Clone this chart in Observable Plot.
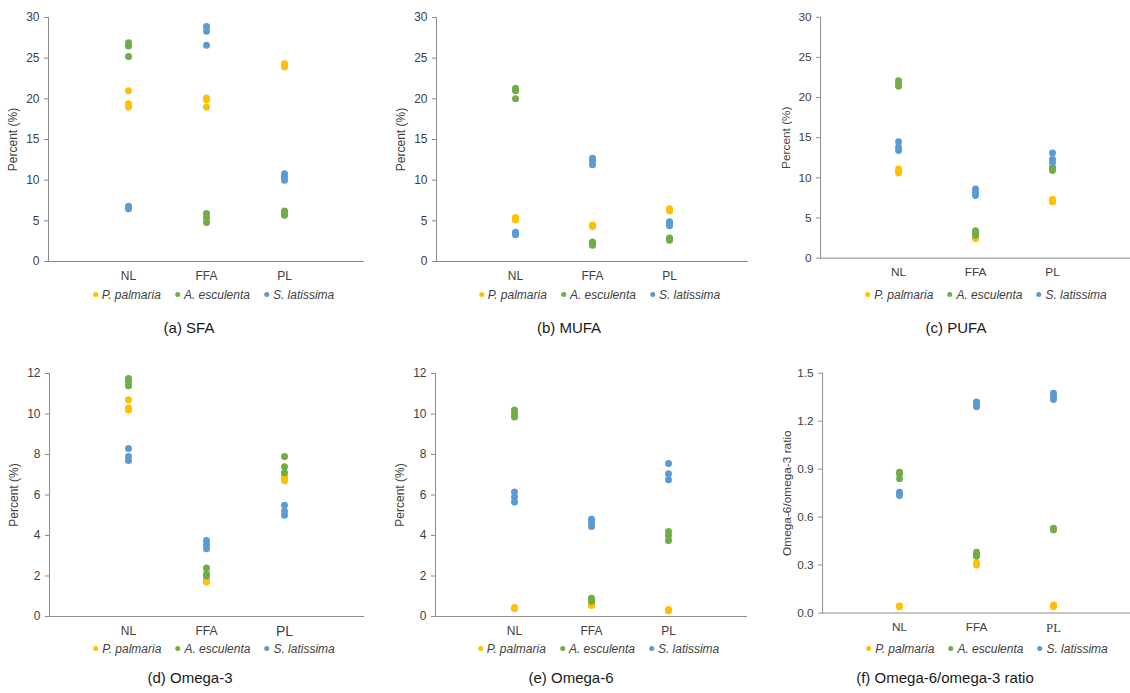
<!DOCTYPE html>
<html>
<head>
<meta charset="utf-8">
<script src="https://cdn.jsdelivr.net/npm/d3@7"></script>
<script src="https://cdn.jsdelivr.net/npm/@observablehq/plot@0.6"></script>
<style>
  body { margin: 0; background: #fff; font-family: "Liberation Sans", Arial, sans-serif; }
  #root { position: relative; width: 1130px; height: 693px; overflow: hidden; background: #fff; }
  .panel { position: absolute; }
  .panel svg { display: block; }
  .legend { position: absolute; white-space: nowrap; font-style: italic; font-size: 12px; line-height: 16px; color: #404040; transform: translateX(-50%); }
  .legend .item { display: inline-block; margin-right: 14px; }
  .legend .item:last-child { margin-right: 0; }
  .legend .sw { display: inline-block; width: 5px; height: 5px; border-radius: 50%; margin-right: 4px; vertical-align: 2px; }
  .caption { position: absolute; font-size: 15px; color: #1a1a1a; transform: translate(-50%, -50%); white-space: nowrap; }
</style>
</head>
<body>
<div id="root"></div>
<script>
// ---------- data ----------
const categories = ["NL", "FFA", "PL"];
const species = ["P. palmaria", "A. esculenta", "S. latissima"];
const speciesColors = ["#FFC000", "#70AD47", "#5B9BD5"];

// each array: per category [NL, FFA, PL], per species [palmaria, esculenta, latissima], 3 replicates
const sfa = [
  [[21.0, 19.4, 19.0], [26.9, 26.5, 25.2], [6.8, 6.6, 6.5]],
  [[20.1, 19.9, 19.0], [5.9, 5.4, 4.8], [28.9, 28.3, 26.6]],
  [[24.3, 24.1, 23.9], [6.2, 5.9, 5.7], [10.8, 10.4, 10.0]]
];
const mufa = [
  [[5.4, 5.3, 5.1], [21.3, 21.0, 20.0], [3.6, 3.5, 3.3]],
  [[4.5, 4.4, 4.3], [2.4, 2.2, 2.0], [12.7, 12.4, 11.9]],
  [[6.5, 6.3, 6.2], [2.9, 2.8, 2.6], [4.9, 4.6, 4.4]]
];
const pufa = [
  [[11.1, 10.8, 10.6], [22.1, 21.8, 21.4], [14.5, 13.8, 13.4]],
  [[2.6, 2.5, 2.4], [3.4, 3.1, 2.8], [8.6, 8.2, 7.8]],
  [[7.3, 7.2, 7.0], [11.3, 11.2, 10.9], [13.1, 12.3, 11.9]]
];
const omega3 = [
  [[10.7, 10.3, 10.2], [11.75, 11.6, 11.4], [8.3, 7.9, 7.7]],
  [[1.8, 1.75, 1.7], [2.4, 2.1, 2.0], [3.75, 3.55, 3.35]],
  [[6.9, 6.8, 6.7], [7.9, 7.4, 7.1], [5.5, 5.2, 5.0]]
];
const omega6 = [
  [[0.45, 0.42, 0.4], [10.2, 10.0, 9.85], [6.15, 5.9, 5.65]],
  [[0.6, 0.55, 0.55], [0.9, 0.8, 0.75], [4.8, 4.6, 4.45]],
  [[0.35, 0.3, 0.28], [4.2, 4.0, 3.75], [7.55, 7.05, 6.75]]
];
const ratio = [
  [[0.045, 0.04, 0.04], [0.88, 0.87, 0.84], [0.755, 0.745, 0.735]],
  [[0.315, 0.305, 0.3], [0.38, 0.365, 0.355], [1.32, 1.305, 1.29]],
  [[0.05, 0.045, 0.04], [0.53, 0.525, 0.52], [1.375, 1.355, 1.335]]
];

const panelData = [sfa, mufa, pufa, omega3, omega6, ratio];
const captions = ["(a) SFA", "(b) MUFA", "(c) PUFA", "(d) Omega-3", "(e) Omega-6", "(f) Omega-6/omega-3 ratio"];
const yLabels = ["Percent (%)", "Percent (%)", "Percent (%)", "Percent (%)", "Percent (%)", "Omega-6/omega-3 ratio"];
const yMax = [30, 30, 30, 12, 12, 1.5];
const yTicks = [
  [0, 5, 10, 15, 20, 25, 30],
  [0, 5, 10, 15, 20, 25, 30],
  [0, 5, 10, 15, 20, 25, 30],
  [0, 2, 4, 6, 8, 10, 12],
  [0, 2, 4, 6, 8, 10, 12],
  [0, 0.3, 0.6, 0.9, 1.2, 1.5]
];
const yFormats = [null, null, null, null, null, ".1f"];

// ---------- layout ----------
const layout = [
  {left: 0,   top: 0,   width: 375, height: 285, ml: 48, mr: 12, mt: 17, mb: 24, legendY: 295, capX: 189, capY: 327},
  {left: 375, top: 0,   width: 375, height: 285, ml: 61, mr: 3,  mt: 17, mb: 24, legendY: 295, capX: 569, capY: 327},
  {left: 750, top: 0,   width: 385, height: 285, ml: 71, mr: 0,  mt: 17, mb: 24, legendY: 295, capX: 956, capY: 327},
  {left: 0,   top: 350, width: 375, height: 290, ml: 49, mr: 12, mt: 23, mb: 24, legendY: 649, capX: 190, capY: 677},
  {left: 375, top: 350, width: 375, height: 290, ml: 60, mr: 4,  mt: 23, mb: 24, legendY: 649, capX: 571, capY: 677},
  {left: 750, top: 350, width: 385, height: 290, ml: 73, mr: 0,  mt: 23, mb: 24, legendY: 649, capX: 945, capY: 677}
];

const root = document.getElementById("root");

panelData.forEach((data, p) => {
  const L = layout[p];
  const rows = [];
  categories.forEach((cat, i) => {
    species.forEach((sp, j) => {
      data[i][j].forEach(v => rows.push({cat, species: sp, value: v}));
    });
  });

  const fmt = yFormats[p] ? d3.format(yFormats[p]) : (d => d);
  const chart = Plot.plot({
    width: L.width,
    height: L.height,
    marginLeft: L.ml,
    marginRight: L.mr,
    marginTop: L.mt,
    marginBottom: L.mb,
    style: {fontFamily: "'Liberation Sans', Arial, sans-serif", fontSize: "12px", color: "#404040", background: "transparent"},
    x: {type: "point", domain: categories, padding: 1, label: null},
    y: {domain: [0, yMax[p]], label: null},
    color: {domain: species, range: speciesColors},
    marks: [
      Plot.frame({anchor: "left", stroke: "#8c8c8c"}),
      Plot.frame({anchor: "bottom", stroke: "#8c8c8c"}),
      Plot.axisX({tickSize: 0, tickPadding: 10, label: null, fontSize: 12}),
      Plot.axisY({ticks: yTicks[p], tickFormat: fmt, tickSize: 4, tickPadding: 5, stroke: "#8c8c8c", fontSize: 12,
                  label: yLabels[p], labelAnchor: "center", labelOffset: 40, labelArrow: "none"}),
      Plot.dot(rows, {x: "cat", y: "value", fill: "species", r: 3.5})
    ]
  });

  const div = document.createElement("div");
  div.className = "panel";
  div.style.left = L.left + "px";
  div.style.top = L.top + "px";
  div.appendChild(chart);
  root.appendChild(div);

  // small tick-label font quirks of the original
  const xt = d3.select(chart).selectAll("g[aria-label='x-axis tick label'] text");
  if (p === 3) xt.filter(function () { return this.textContent === "PL"; }).attr("font-size", 14);
  if (p === 5) xt.filter(function () { return this.textContent === "PL"; }).attr("font-family", "'Liberation Serif', serif").attr("font-size", 13);

  // legend
  const plotCenter = L.left + L.ml + (Math.min(L.width, 1130 - L.left) - L.ml - L.mr) / 2;
  const lg = document.createElement("div");
  lg.className = "legend";
  lg.style.left = (L.left + L.ml + (L.width - L.ml - L.mr) / 2 + 8) + "px";
  lg.style.top = (L.legendY - 8) + "px";
  species.forEach((sp, j) => {
    const it = document.createElement("span");
    it.className = "item";
    const sw = document.createElement("span");
    sw.className = "sw";
    sw.style.background = speciesColors[j];
    it.appendChild(sw);
    it.appendChild(document.createTextNode(sp));
    lg.appendChild(it);
  });
  root.appendChild(lg);

  // caption
  const cap = document.createElement("div");
  cap.className = "caption";
  cap.style.left = L.capX + "px";
  cap.style.top = L.capY + "px";
  cap.textContent = captions[p];
  root.appendChild(cap);
});
</script>
</body>
</html>
